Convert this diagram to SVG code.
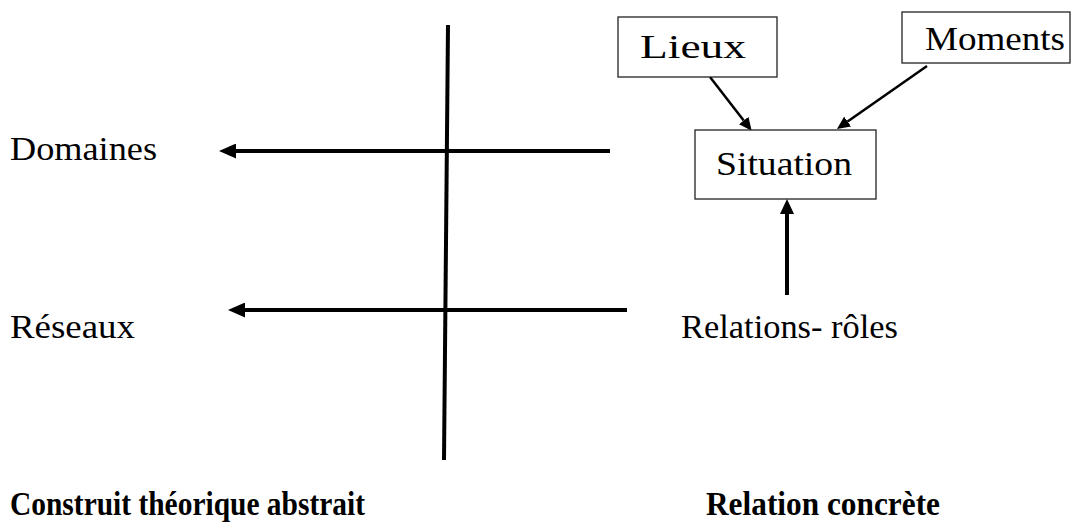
<svg xmlns="http://www.w3.org/2000/svg" width="1071" height="524" viewBox="0 0 1071 524">
<style>
  text { fill: #000; font-family: 'Liberation Serif', 'Times New Roman', serif; }
  .t { font-size: 33px; }
  .b { font-size: 34px; font-weight: bold; }
  .box { fill: #fff; stroke: #222; stroke-width: 1.3; }
  .thick { stroke: #000; stroke-width: 4; fill: none; }
  .thin { stroke: #000; stroke-width: 2.5; fill: none; }
</style>
<defs>
  <marker id="big" viewBox="0 0 17 15" refX="0" refY="7.5" markerWidth="17" markerHeight="15" markerUnits="userSpaceOnUse" orient="auto">
    <path d="M0,0 L17,7.5 L0,15 z" fill="#000"/>
  </marker>
  <marker id="up" viewBox="0 0 15 14" refX="0" refY="7" markerWidth="15" markerHeight="14" markerUnits="userSpaceOnUse" orient="auto">
    <path d="M0,0 L15,7 L0,14 z" fill="#000"/>
  </marker>
  <marker id="small" viewBox="0 0 13 12" refX="0" refY="6" markerWidth="13" markerHeight="12" markerUnits="userSpaceOnUse" orient="auto">
    <path d="M0,0 L13,6 L0,12 z" fill="#000"/>
  </marker>
</defs>

<g id="axis">
  <line x1="448" y1="25" x2="444" y2="460" class="thick"/>
</g>

<g id="connectors">
  <line x1="610" y1="151" x2="236" y2="151" class="thick" marker-end="url(#big)"/>
  <line x1="627" y1="310" x2="245" y2="310" class="thick" marker-end="url(#big)"/>
  <line x1="787" y1="295" x2="787" y2="214" class="thick" marker-end="url(#up)"/>
  <line x1="710" y1="77" x2="743.7" y2="120.5" class="thin" marker-end="url(#small)"/>
  <line x1="927" y1="66" x2="847.6" y2="121.5" class="thin" marker-end="url(#small)"/>
</g>

<g id="node-lieux">
  <rect x="618" y="17" width="159" height="60" class="box"/>
  <text x="640" y="58" class="t" textLength="106" lengthAdjust="spacingAndGlyphs">Lieux</text>
</g>
<g id="node-moments">
  <rect x="902" y="12" width="168" height="51" class="box"/>
  <text x="925" y="50" class="t" textLength="140" lengthAdjust="spacingAndGlyphs">Moments</text>
</g>
<g id="node-situation">
  <rect x="695" y="130" width="181" height="69" class="box"/>
  <text x="716" y="175" class="t" textLength="136" lengthAdjust="spacingAndGlyphs">Situation</text>
</g>
<g id="node-domaines">
  <text x="10" y="160" class="t" textLength="147" lengthAdjust="spacingAndGlyphs">Domaines</text>
</g>
<g id="node-reseaux">
  <text x="10" y="338" class="t" textLength="125" lengthAdjust="spacingAndGlyphs">Réseaux</text>
</g>
<g id="node-relations">
  <text x="681" y="338" class="t" textLength="217" lengthAdjust="spacingAndGlyphs">Relations- rôles</text>
</g>
<g id="label-construit">
  <text x="10" y="515" class="b" textLength="355" lengthAdjust="spacingAndGlyphs">Construit théorique abstrait</text>
</g>
<g id="label-relation">
  <text x="706" y="515" class="b" textLength="234" lengthAdjust="spacingAndGlyphs">Relation concrète</text>
</g>
</svg>
